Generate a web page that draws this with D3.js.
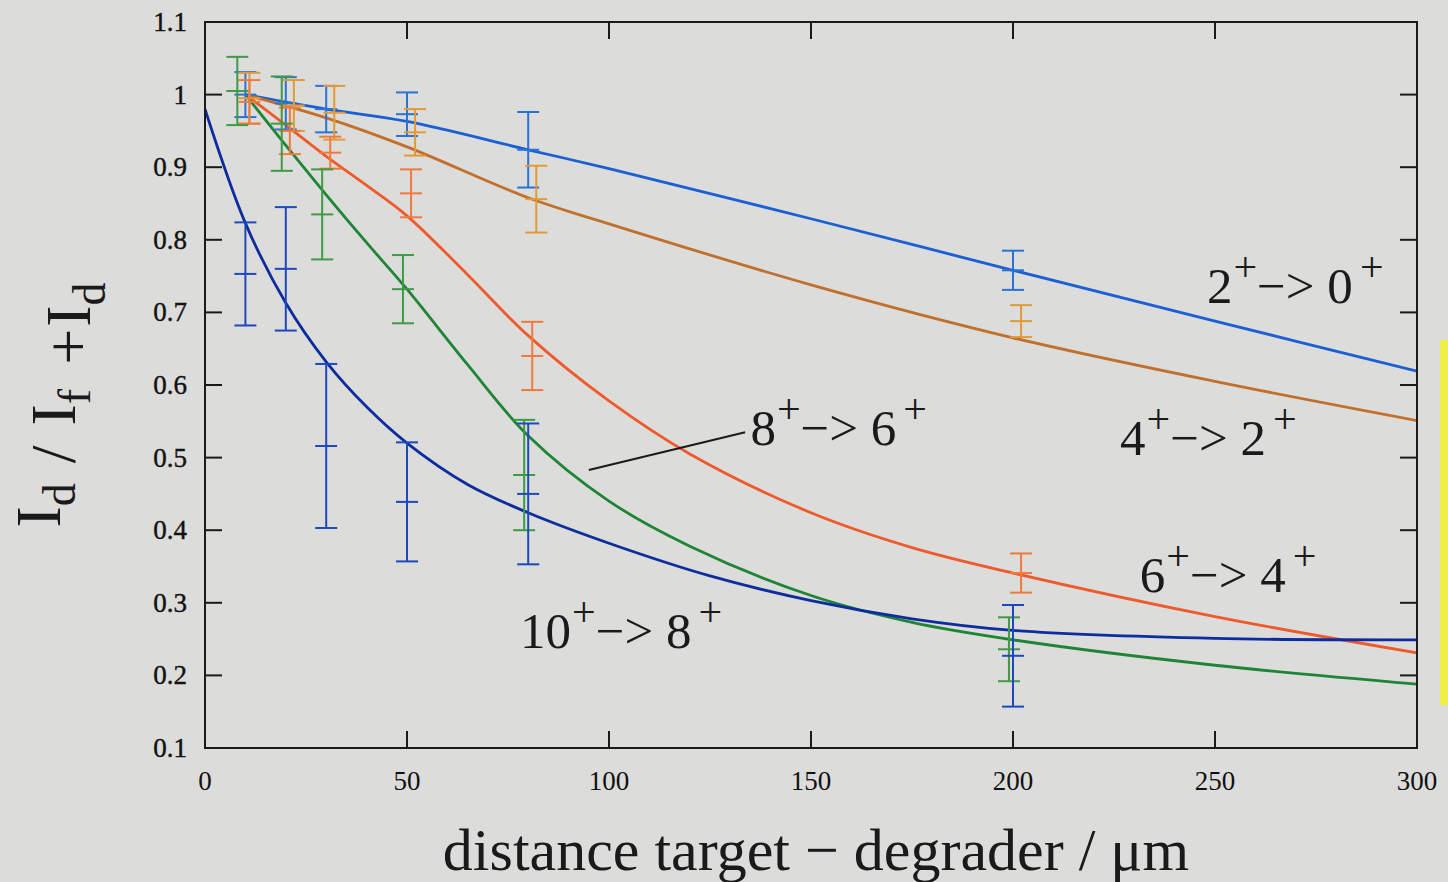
<!DOCTYPE html>
<html>
<head>
<meta charset="utf-8">
<script src="https://cdn.jsdelivr.net/npm/d3@7"></script>
<style>
  html, body { margin: 0; padding: 0; background: #dcdcda; }
  svg { display: block; font-family: "Liberation Serif", "DejaVu Serif", serif; }
</style>
</head>
<body>
<svg id="chart" width="1448" height="882"></svg>
<script>
const s20_x = [10, 20, 30, 50, 80, 200];
const s20_y = [1.0, 0.988, 0.98, 0.973, 0.924, 0.758];
const s20_e = [0.031, 0.036, 0.032, 0.03, 0.052, 0.027];

const s42_x = [11, 22, 32, 52, 82, 202];
const s42_y = [0.995, 0.985, 0.975, 0.948, 0.856, 0.688];
const s42_e = [0.035, 0.035, 0.037, 0.032, 0.046, 0.022];

const s64_x = [11, 21, 31, 51, 81, 202];
const s64_y = [0.99, 0.95, 0.92, 0.864, 0.64, 0.341];
const s64_e = [0.03, 0.032, 0.022, 0.033, 0.047, 0.027];

const s86_x = [8, 19, 29, 49, 79, 199];
const s86_y = [1.005, 0.96, 0.835, 0.732, 0.476, 0.236];
const s86_e = [0.047, 0.065, 0.062, 0.047, 0.076, 0.044];

const s108_x = [10, 20, 30, 50, 80, 200];
const s108_y = [0.753, 0.76, 0.516, 0.439, 0.45, 0.227];
const s108_e = [0.071, 0.085, 0.113, 0.082, 0.097, 0.07];

// fitted curves, sampled from the figure
const c20_x = [10, 30, 50, 80, 100, 150, 200, 250, 300];
const c20_y = [1.0, 0.98, 0.963, 0.924, 0.898, 0.829, 0.758, 0.688, 0.619];

const c42_x = [10, 30, 50, 80, 100, 150, 200, 250, 300];
const c42_y = [1.0, 0.968, 0.928, 0.858, 0.822, 0.738, 0.665, 0.605, 0.551];

const c64_x = [10, 20, 30, 40, 50, 65, 80, 100, 120, 150, 175, 200, 250, 300];
const c64_y = [1.0, 0.958, 0.915, 0.875, 0.833, 0.752, 0.668, 0.578, 0.505, 0.424, 0.376, 0.341, 0.281, 0.231];

const c86_x = [10, 20, 30, 40, 50, 65, 80, 100, 120, 150, 175, 200, 250, 300];
const c86_y = [1.0, 0.93, 0.862, 0.796, 0.732, 0.628, 0.53, 0.44, 0.378, 0.31, 0.273, 0.249, 0.214, 0.188];

const c108_x = [0, 10, 20, 30, 40, 50, 65, 80, 100, 125, 150, 175, 200, 250, 300];
const c108_y = [0.98, 0.823, 0.713, 0.632, 0.57, 0.52, 0.463, 0.424, 0.382, 0.337, 0.303, 0.278, 0.262, 0.251, 0.249];

const xTicks = [0, 50, 100, 150, 200, 250, 300];
const yTicks = [0.1, 0.2, 0.3, 0.4, 0.5, 0.6, 0.7, 0.8, 0.9, 1, 1.1];

// label: [main, sup, main, sup], position in data units (baseline)
const labels = [
  { parts: ["2", "+", "\u2212> 0", "+"], x: 248, y: 0.713 },
  { parts: ["4", "+", "\u2212> 2", "+"], x: 226.5, y: 0.504 },
  { parts: ["6", "+", "\u2212> 4", "+"], x: 231.4, y: 0.315 },
  { parts: ["10", "+", "\u2212> 8", "+"], x: 78, y: 0.238 },
  { parts: ["8", "+", "\u2212> 6", "+"], x: 135, y: 0.517 }
];
const leader = [[95, 0.483], [133.7, 0.535]];

const series = [
  { xs: s20_x, ys: s20_y, es: s20_e, cx: c20_x, cy: c20_y, line: "#1b5fd4", bar: "#2a72d6" },
  { xs: s42_x, ys: s42_y, es: s42_e, cx: c42_x, cy: c42_y, line: "#c0702c", bar: "#e29a36" },
  { xs: s64_x, ys: s64_y, es: s64_e, cx: c64_x, cy: c64_y, line: "#ee5a2c", bar: "#f07a3c" },
  { xs: s86_x, ys: s86_y, es: s86_e, cx: c86_x, cy: c86_y, line: "#1e8436", bar: "#3f9a44" },
  { xs: s108_x, ys: s108_y, es: s108_e, cx: c108_x, cy: c108_y, line: "#0d2c9e", bar: "#1d48be" }
];

const W = 1448, H = 882;
const m = { left: 205, right: 31, top: 22, bottom: 134 };
const svg = d3.select("#chart");

const x = d3.scaleLinear().domain([0, 300]).range([m.left, W - m.right]);
const y = d3.scaleLinear().domain([0.1, 1.1]).range([H - m.bottom, m.top]);

// yellow strip at right edge
svg.append("rect").attr("x", 1440).attr("y", 340).attr("width", 10).attr("height", 365).attr("fill", "#eef044");

const plot = svg.append("g");
plot.append("defs").append("clipPath").attr("id", "clip")
  .append("rect").attr("x", m.left).attr("y", m.top)
  .attr("width", W - m.left - m.right).attr("height", H - m.top - m.bottom);

// curves
const line = d3.line().x(d => x(d[0])).y(d => y(d[1])).curve(d3.curveCatmullRom.alpha(0.5));
series.forEach(s => {
  plot.append("path")
    .datum(s.cx.map((v, i) => [v, s.cy[i]]))
    .attr("d", line)
    .attr("fill", "none")
    .attr("stroke", s.line)
    .attr("stroke-width", 2.8)
    .attr("clip-path", "url(#clip)");
});

// error bars
series.forEach(s => {
  const g = plot.append("g").attr("stroke", s.bar).attr("stroke-width", 2).attr("fill", "none");
  s.xs.forEach((v, i) => {
    const px = x(v), top = y(s.ys[i] + s.es[i]), bot = y(s.ys[i] - s.es[i]), mid = y(s.ys[i]);
    g.append("line").attr("x1", px).attr("x2", px).attr("y1", top).attr("y2", bot);
    [top, mid, bot].forEach(yy => {
      g.append("line").attr("x1", px - 11).attr("x2", px + 11).attr("y1", yy).attr("y2", yy);
    });
  });
});

// frame and ticks
const axes = svg.append("g").attr("stroke", "#1a1a1a");
axes.append("rect").attr("x", m.left).attr("y", m.top)
  .attr("width", W - m.left - m.right).attr("height", H - m.top - m.bottom)
  .attr("fill", "none").attr("stroke-width", 2);
const tl = 17;
yTicks.forEach(t => {
  axes.append("line").attr("x1", x(0)).attr("x2", x(0) + tl).attr("y1", y(t)).attr("y2", y(t)).attr("stroke-width", 2);
  axes.append("line").attr("x1", x(300)).attr("x2", x(300) - tl).attr("y1", y(t)).attr("y2", y(t)).attr("stroke-width", 2);
});
xTicks.forEach(t => {
  axes.append("line").attr("x1", x(t)).attr("x2", x(t)).attr("y1", y(0.1)).attr("y2", y(0.1) - tl).attr("stroke-width", 2);
  axes.append("line").attr("x1", x(t)).attr("x2", x(t)).attr("y1", y(1.1)).attr("y2", y(1.1) + tl).attr("stroke-width", 2);
});

// tick labels
svg.append("g").selectAll("text").data(yTicks).join("text")
  .attr("x", m.left - 18).attr("y", d => y(d) + 9)
  .attr("text-anchor", "end").attr("font-size", 27).attr("fill", "#111")
  .attr("stroke", "#111").attr("stroke-width", 0.4)
  .text(d => d3.format("")(d));
svg.append("g").selectAll("text").data(xTicks).join("text")
  .attr("x", d => x(d)).attr("y", y(0.1) + 42)
  .attr("text-anchor", "middle").attr("font-size", 27).attr("fill", "#111")
  .text(d => d);

// axis titles
svg.append("text")
  .attr("x", 816).attr("y", 870)
  .attr("text-anchor", "middle").attr("font-size", 60).attr("fill", "#1a1a1a")
  .text("distance target \u2212 degrader / \u03bcm");

const yl = svg.append("text")
  .attr("transform", "translate(60,405) rotate(-90)")
  .attr("text-anchor", "middle").attr("font-size", 64).attr("fill", "#1a1a1a");
[["I", 0, 0], ["d", 1, 0], ["/", 0, 20], ["I", 0, 20], ["f", 1, 0], ["+", 0, 24], ["I", 0, 2], ["d", 1, 0]].forEach(([t, sub, gap]) => {
  yl.append("tspan").text(t)
    .attr("font-size", sub ? 46 : 64)
    .attr("dy", sub ? 15 : 0)
    .attr("dx", gap);
  if (sub) yl.append("tspan").text("").attr("dy", -15);
});

// curve labels
const lg = svg.append("g").attr("fill", "#1a1a1a").attr("font-size", 51);
labels.forEach(l => {
  const t = lg.append("text").attr("x", x(l.x)).attr("y", y(l.y));
  l.parts.forEach((p, i) => {
    if (i % 2 === 1) {
      t.append("tspan").text(p).attr("font-size", 42).attr("dy", -22).attr("dx", i === 3 ? 7 : 1);
    } else {
      t.append("tspan").text(p).attr("dy", i === 0 ? 0 : 22);
    }
  });
});
svg.append("line")
  .attr("x1", x(leader[0][0])).attr("y1", y(leader[0][1]))
  .attr("x2", x(leader[1][0])).attr("y2", y(leader[1][1]))
  .attr("stroke", "#1a1a1a").attr("stroke-width", 2);
</script>
</body>
</html>
